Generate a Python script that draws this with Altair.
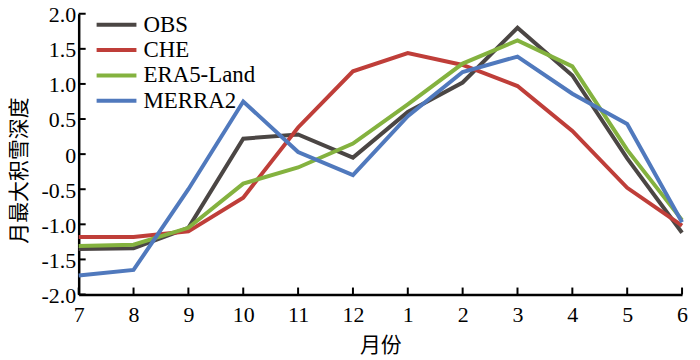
import altair as alt
import pandas as pd

months = ["7", "8", "9", "10", "11", "12", "1", "2", "3", "4", "5", "6"]
obs = [-1.35, -1.34, -1.05, 0.22, 0.28, -0.05, 0.60, 1.02, 1.80, 1.12, -0.06, -1.12]
che = [-1.18, -1.18, -1.10, -0.62, 0.38, 1.18, 1.44, 1.27, 0.97, 0.33, -0.48, -1.02]
era5 = [-1.31, -1.29, -1.05, -0.42, -0.19, 0.15, 0.71, 1.29, 1.62, 1.25, 0.06, -0.94]
merra2 = [-1.73, -1.65, -0.50, 0.75, 0.03, -0.30, 0.54, 1.17, 1.39, 0.86, 0.43, -0.97]
series = ["OBS", "CHE", "ERA5-Land", "MERRA2"]
colors = ["#4b4644", "#bf3e39", "#84b23f", "#5079bd"]
yticks = [-2.0, -1.5, -1.0, -0.5, 0.0, 0.5, 1.0, 1.5, 2.0]

rows = []
for name, vals in zip(series, [obs, che, era5, merra2]):
    for m, v in zip(months, vals):
        rows.append({"month": m, "value": v, "series": name})
df = pd.DataFrame(rows)

W, H = 606, 282
FONT = "Liberation Serif"

xscale = alt.Scale(type="point", padding=0, domain=months)
yscale = alt.Scale(domain=[-2, 2], nice=False)

xaxis = alt.Axis(title="月份", labelAngle=0, ticks=False, labelPadding=10,
                 titlePadding=9, domainWidth=2.5, domainColor="black")
yaxis = alt.Axis(title="月最大积雪深度", values=yticks, ticks=False, labelPadding=3,
                 labelOverlap=False, labelOffset=1,
                 labelExpr="datum.value == 0 ? '0' : (datum.value < 0 ? '-' : '') + format(abs(datum.value), '.1f')",
                 grid=False, domainWidth=2.5, domainColor="black")

lines = alt.Chart(df).mark_line(strokeWidth=4, strokeJoin="miter").encode(
    x=alt.X("month:O", scale=xscale, sort=months, axis=xaxis),
    y=alt.Y("value:Q", scale=yscale, axis=yaxis),
    color=alt.Color("series:N", scale=alt.Scale(domain=series, range=colors), sort=series,
                    legend=alt.Legend(title=None, orient="none", legendX=26, legendY=-1,
                                      symbolType="M-2,0H2", symbolSize=400, symbolStrokeWidth=4,
                                      labelFontSize=23, labelFont=FONT, rowPadding=1.5,
                                      labelOffset=15, padding=0, labelColor="black")),
)

ytick_df = pd.DataFrame({"value": yticks})
yt = alt.Chart(ytick_df).mark_rule(color="black", strokeWidth=2).encode(
    y=alt.Y("value:Q", scale=yscale, axis=yaxis), x=alt.value(0), x2=alt.value(7))

xtick_df = pd.DataFrame({"month": months})
xt = alt.Chart(xtick_df).mark_rule(color="black", strokeWidth=2).encode(
    x=alt.X("month:O", scale=xscale, sort=months, axis=xaxis), y=alt.value(H), y2=alt.value(H - 7))

chart = alt.layer(lines, yt, xt).properties(
    width=W, height=H,
    autosize=alt.AutoSizeParams(type="none"),
    padding={"left": 71, "top": 5, "right": 10, "bottom": 64},
).configure_view(stroke=None).configure_axis(
    labelFont=FONT, titleFont=FONT, labelFontSize=22, titleFontSize=22,
    labelColor="black", titleColor="black", titleFontWeight="normal",
).configure_axisY(titleFont="Noto Sans CJK SC", titleFontSize=21, titleX=-59, titleY=157,
                  titleAngle=270, titleBaseline="middle", titleAlign="center",
).configure_axisX(titleFont="Noto Sans CJK SC", titleFontSize=21)

chart.save("out.html", embed_options={"renderer": "svg", "actions": False})
